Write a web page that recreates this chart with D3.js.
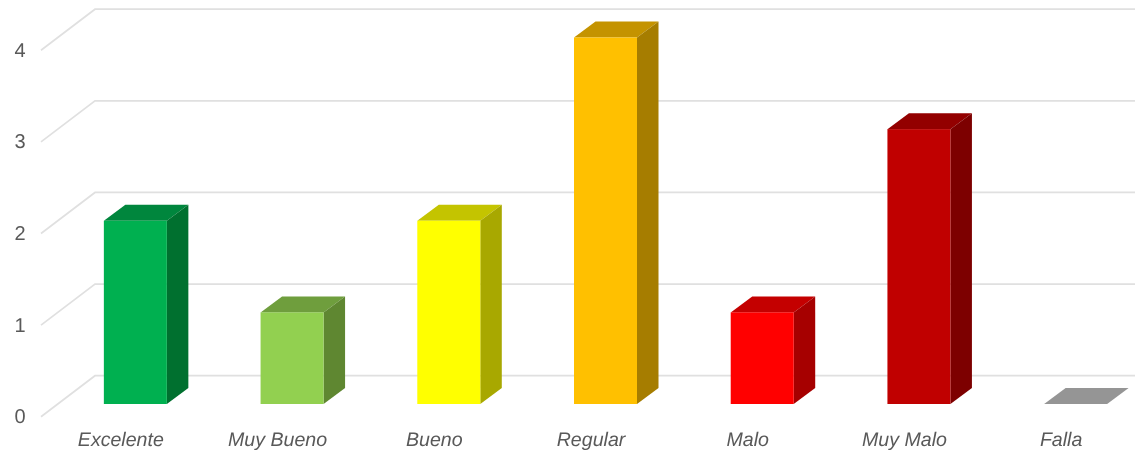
<!DOCTYPE html>
<html><head><meta charset="utf-8">
<script src="https://cdn.jsdelivr.net/npm/d3@7"></script>
<style>html,body{margin:0;padding:0;background:#fff}svg{display:block;filter:blur(0.4px)}text{font-family:"Liberation Sans",Arial,sans-serif;text-rendering:geometricPrecision}</style>
</head><body><svg id="c" width="1135" height="459"></svg>
<script>
const categories=["Excelente","Muy Bueno","Bueno","Regular","Malo","Muy Malo","Falla"];
const values=[2,1,2,4,1,3,0];
const frontColors=["#00B050","#92D050","#FFFF00","#FFC000","#FF0000","#C00000","#A6A6A6"];
const topColors=["#00863D","#6F9E3D","#C4C400","#C49300","#C40000","#930000","#959595"];
const sideColors=["#00702F","#5F8731","#A8A800","#A67D00","#A60000","#7D0000","#808080"];
const yTicks=[0,1,2,3,4];

const svg=d3.select("#c");
const x=d3.scaleBand().domain(categories).range([57,1154]).paddingInner(0).paddingOuter(0);
const y=d3.scaleLinear().domain([0,4]).range([404,37.5]);
const barW=63, dx=21.5, dy=16;
const wallDx=54, wallDy=41, frontOff=12.7;
const barX=c=>x(c)+x.bandwidth()/2-barW/2;

const grid=svg.append("g").attr("fill","none").attr("stroke","#E0E0E0").attr("stroke-width",1.7);
yTicks.forEach(t=>{
  const yf=y(t)+frontOff, xf=41;
  grid.append("path").attr("d",`M${xf},${yf}L${xf+wallDx},${yf-wallDy}L1135,${yf-wallDy}`);
});
svg.append("g").selectAll("text").data(yTicks).join("text")
  .attr("x",20).attr("y",t=>y(t)+frontOff+6.5).attr("text-anchor","middle")
  .attr("font-size",20).attr("fill","#595959").text(t=>t);

const bars=svg.append("g").selectAll("g").data(categories).join("g");
bars.each(function(c,i){
  const g=d3.select(this), X=barX(c), T=y(values[i]), B=y(0);
  g.append("path").attr("fill",topColors[i]).attr("d",`M${X},${T}L${X+dx},${T-dy}L${X+barW+dx},${T-dy}L${X+barW},${T}Z`);
  if(values[i]>0){
    g.append("path").attr("fill",sideColors[i]).attr("d",`M${X+barW},${T}L${X+barW+dx},${T-dy}L${X+barW+dx},${B-dy}L${X+barW},${B}Z`);
    g.append("rect").attr("x",X).attr("y",T).attr("width",barW).attr("height",B-T).attr("fill",frontColors[i]);
  }
});
svg.append("g").selectAll("text").data(categories).join("text")
  .attr("x",c=>x(c)+x.bandwidth()/2-14.5).attr("y",446).attr("text-anchor","middle")
  .attr("font-size",19.6).attr("font-style","italic").attr("fill","#595959").text(c=>c);
</script></body></html>
